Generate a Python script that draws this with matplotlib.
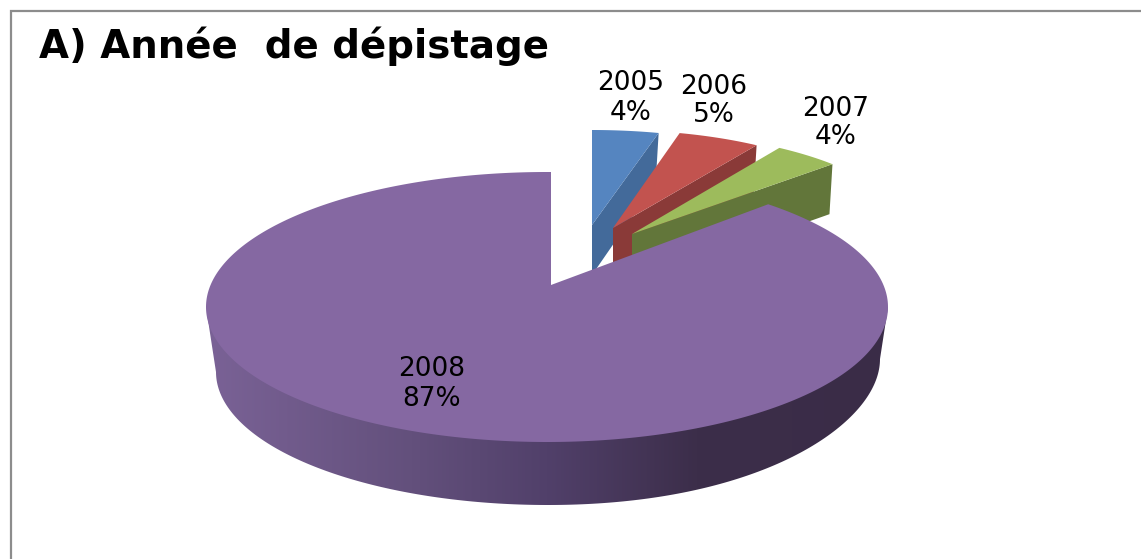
import numpy as np
import matplotlib
matplotlib.use("Agg")
import matplotlib.pyplot as plt
from matplotlib.patches import Polygon
from matplotlib.colors import LinearSegmentedColormap

years = ["2005", "2006", "2007", "2008"]
percents = [4, 5, 4, 87]
title = "A) Année  de dépistage"

top_colors = ["#5585c0", "#c2534f", "#9dbb5c", "#8568a2"]
wall_colors = ["#436a9a", "#8a3a38", "#62763a"]

# layout, in pixels of the figure
apexes = [(592, 225), (613, 228), (632, 234)]
radii = [(268, 95), (268, 98), (275, 102)]
depth = 50
main_apex = (551, 285)
main_c, main_a, main_b = (547, 307), 341, 135
base_c, base_a, base_b = (548, 372), 332, 133
label_pos = [(631, 98), (714, 101), (836, 123), (432, 384)]

fig = plt.figure(figsize=(11.41, 5.59), dpi=100)
ax = fig.add_axes([0, 0, 1, 1])

edges = np.deg2rad(np.concatenate([[0], np.cumsum(percents)]) * 3.6)

for i in range(3):
    t = np.linspace(edges[i], edges[i + 1], 40)
    ax_, ay_ = apexes[i]
    x = ax_ + radii[i][0] * np.sin(t)
    y = ay_ - radii[i][1] * np.cos(t)
    wall = [(ax_, ay_), (x[-1], y[-1]), (x[-1] - 3, y[-1] + depth), (ax_, ay_ + depth)]
    ax.add_patch(Polygon(wall, closed=True, fc=wall_colors[i], ec="none", zorder=2 + i))
    face = np.column_stack([np.r_[ax_, x], np.r_[ay_, y]])
    ax.add_patch(Polygon(face, closed=True, fc=top_colors[i], ec="none", zorder=2.5 + i))


def main_rim(t):
    # ray from the off-centre apex to the top ellipse
    dx, dy = main_a * np.sin(t), -main_b * np.cos(t)
    ox, oy = main_apex[0] - main_c[0], main_apex[1] - main_c[1]
    A = (dx / main_a) ** 2 + (dy / main_b) ** 2
    B = 2 * (ox * dx / main_a ** 2 + oy * dy / main_b ** 2)
    C = (ox / main_a) ** 2 + (oy / main_b) ** 2 - 1
    s = (-B + np.sqrt(B ** 2 - 4 * A * C)) / (2 * A)
    return main_apex[0] + s * dx, main_apex[1] + s * dy


# side wall of the main slice, with its left to right shading
u = np.linspace(np.pi / 2, 3 * np.pi / 2, 200)
wx = base_c[0] + base_a * np.sin(u)
wy = base_c[1] - base_b * np.cos(u) - 13 * np.clip(np.sin(u), 0, None) ** 3
wall_pts = np.column_stack([
    np.r_[main_c[0] + main_a, wx, main_c[0] - main_a],
    np.r_[main_c[1], wy, main_c[1]],
])
wall_patch = Polygon(wall_pts, closed=True, fc="none", ec="none", zorder=6)
ax.add_patch(wall_patch)
cmap = LinearSegmentedColormap.from_list(
    "wall",
    [(0, "#7a6296"), (0.3, "#63507c"), (0.5, "#51406a"), (0.72, "#3c2e4a"), (1, "#3a2c47")],
)
img = ax.imshow(
    np.linspace(0, 1, 256)[None, :], cmap=cmap, extent=(207, 888, 510, 300),
    aspect="auto", zorder=6,
)
img.set_clip_path(wall_patch)

t = np.linspace(edges[3], edges[4], 400)
fx, fy = main_rim(t)
face = np.column_stack([np.r_[main_apex[0], fx], np.r_[main_apex[1], fy]])
ax.add_patch(Polygon(face, closed=True, fc=top_colors[3], ec="none", zorder=7))

for (lx, ly), yr, pct in zip(label_pos, years, percents):
    ax.text(lx, ly, f"{yr}\n{pct}%", ha="center", va="center", fontsize=19,
            family="DejaVu Sans", color="black", linespacing=1.15, zorder=9)

ax.text(39, 46, title, ha="left", va="center", fontsize=27.9, fontweight="bold",
        family="DejaVu Sans", color="black", zorder=9)

ax.plot([10.5, 10.5, 1141], [559, 10.5, 10.5], color="#8c8c8c", lw=1.6,
        solid_joinstyle="miter", zorder=1)

ax.set_xlim(0, 1141)
ax.set_ylim(559, 0)
ax.axis("off")
fig.savefig("out.png", dpi=100, facecolor="white")
